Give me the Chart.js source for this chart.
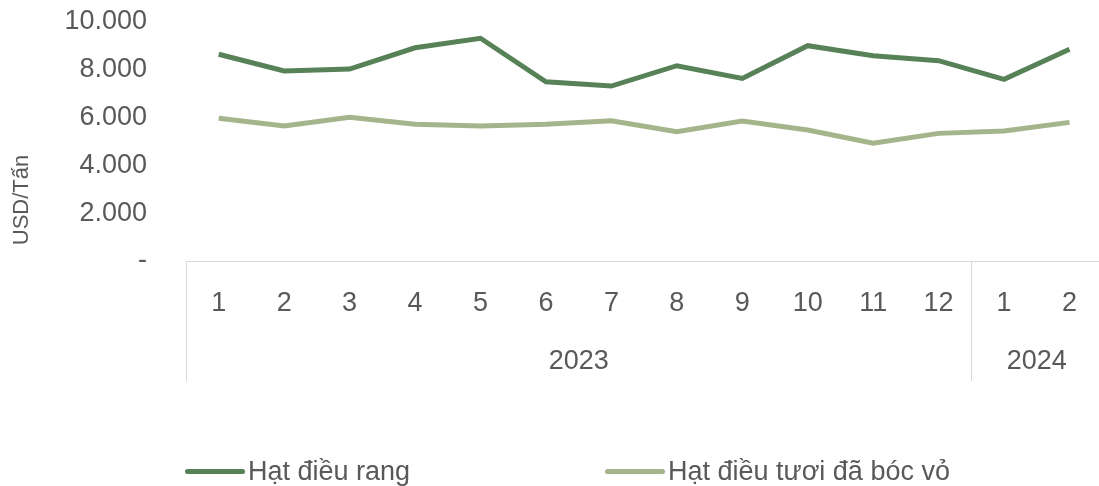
<!DOCTYPE html>
<html>
<head>
<meta charset="utf-8">
<script src="https://cdn.jsdelivr.net/npm/chart.js@4"></script>
<style>
  body { margin: 0; background: #fff; overflow: hidden; }
  #wrap { position: relative; width: 1099px; height: 486px; overflow: hidden; }
  #legend { position: absolute; left: 0; top: 454px; width: 1099px; height: 34px; font-family: "Liberation Sans", Arial, sans-serif; font-size: 27px; color: #595959; }
  .item { position: absolute; top: 0; display: flex; align-items: center; height: 34px; }
  .swatch { width: 60px; height: 5px; border-radius: 3px; margin-right: 3px; }
</style>
</head>
<body>
<div id="wrap">
  <canvas id="cashewChart" width="1103" height="486"></canvas>
  <div id="legend"></div>
</div>
<script>
const months = ["1", "2", "3", "4", "5", "6", "7", "8", "9", "10", "11", "12", "1", "2"];
const years = ["2023", "2024"];
const yearSpans = [12, 2];

const roasted = [8650, 7950, 8030, 8920, 9320, 7500, 7320, 8170, 7640, 9010, 8590, 8380, 7600, 8860];
const fresh = [5970, 5650, 6010, 5720, 5650, 5720, 5870, 5410, 5860, 5480, 4930, 5340, 5440, 5800];

const textColor = "#595959";
const lineColor = "#d9d9d9";
const fontFamily = "'Liberation Sans', Arial, sans-serif";

function formatNumber(v) {
  if (v === 0) return "-";
  return String(v).replace(/\B(?=(\d{3})+(?!\d))/g, ".");
}

// year row + separators under the month labels
const yearRow = {
  id: "yearRow",
  afterDraw(chart) {
    const ctx = chart.ctx;
    const x = chart.scales.x;
    const area = chart.chartArea;
    const step = (area.right - area.left) / months.length;
    const top = area.bottom;
    const bottom = area.bottom + 120;

    ctx.save();
    ctx.strokeStyle = lineColor;
    ctx.lineWidth = 1;
    let start = 0;
    const edges = [0];
    yearSpans.forEach((n) => { start += n; edges.push(start); });
    edges.forEach((e) => {
      const px = Math.round(area.left + e * step) + 0.5;
      ctx.beginPath();
      ctx.moveTo(px, top);
      ctx.lineTo(px, bottom);
      ctx.stroke();
    });

    ctx.fillStyle = textColor;
    ctx.font = "27px " + fontFamily;
    ctx.textAlign = "center";
    ctx.textBaseline = "middle";
    years.forEach((y, i) => {
      const a = x.getPixelForValue(edges[i]);
      const b = x.getPixelForValue(edges[i + 1] - 1);
      ctx.fillText(y, (a + b) / 2, 362);
    });

    // y axis title
    ctx.translate(22, 200);
    ctx.rotate(-Math.PI / 2);
    ctx.font = "22px " + fontFamily;
    ctx.fillText("USD/Tấn", 0, 0);
    ctx.restore();
  },
};

const chart = new Chart(document.getElementById("cashewChart"), {
  type: "line",
  data: {
    labels: months,
    datasets: [
      {
        label: "Hạt điều rang",
        data: roasted,
        borderColor: "#578257",
        borderWidth: 5,
        pointRadius: 0,
        tension: 0,
      },
      {
        label: "Hạt điều tươi đã bóc vỏ",
        data: fresh,
        borderColor: "#a4b58b",
        borderWidth: 5,
        pointRadius: 0,
        tension: 0,
      },
    ],
  },
  options: {
    responsive: false,
    animation: false,
    layout: { padding: { top: 0, right: 0, bottom: 105, left: 0 } },
    plugins: { legend: { display: false }, tooltip: { enabled: false } },
    scales: {
      x: {
        offset: true,
        grid: { display: false, drawTicks: false },
        border: { color: lineColor, width: 1 },
        ticks: { color: textColor, font: { family: fontFamily, size: 27 }, padding: 26, maxRotation: 0, autoSkip: false },
        afterFit(scale) { scale.height = 120; },
      },
      y: {
        min: 0,
        max: 10000,
        grid: { display: false, drawTicks: false },
        border: { display: false },
        ticks: {
          stepSize: 2000,
          color: textColor,
          font: { family: fontFamily, size: 27 },
          padding: 39,
          callback: (v) => formatNumber(v),
        },
        afterFit(scale) {
          scale.width = 186;
          scale.paddingTop = 22;
          scale.paddingBottom = 0;
        },
      },
    },
  },
  plugins: [yearRow],
});

// legend below the chart
const legendPos = [185, 605];
const legend = document.getElementById("legend");
chart.data.datasets.forEach((ds, i) => {
  const item = document.createElement("div");
  item.className = "item";
  item.style.left = legendPos[i] + "px";
  const sw = document.createElement("span");
  sw.className = "swatch";
  sw.style.background = ds.borderColor;
  const label = document.createElement("span");
  label.textContent = ds.label;
  item.appendChild(sw);
  item.appendChild(label);
  legend.appendChild(item);
});
</script>
</body>
</html>
